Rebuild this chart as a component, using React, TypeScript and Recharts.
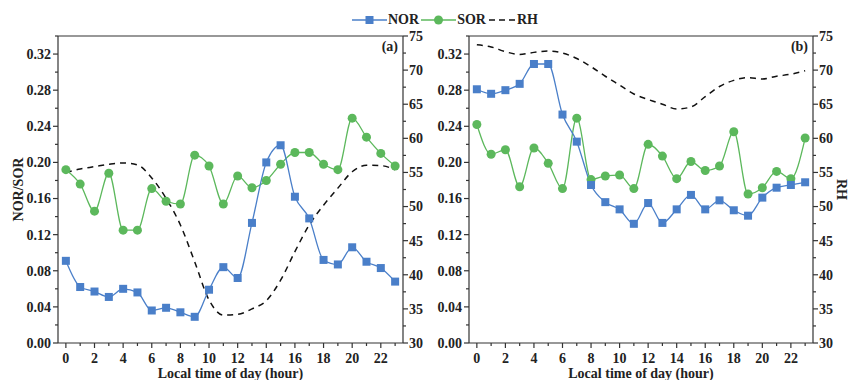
import { LineChart, Line, XAxis, YAxis, ReferenceLine } from "recharts";

const hours = [0, 1, 2, 3, 4, 5, 6, 7, 8, 9, 10, 11, 12, 13, 14, 15, 16, 17, 18, 19, 20, 21, 22, 23];

// panel (a)
const norA = [0.091, 0.062, 0.057, 0.051, 0.060, 0.056, 0.036, 0.039, 0.034, 0.029, 0.059, 0.084, 0.072, 0.133, 0.200, 0.219, 0.162, 0.138, 0.092, 0.087, 0.106, 0.090, 0.083, 0.068];
const sorA = [0.192, 0.176, 0.146, 0.188, 0.125, 0.125, 0.171, 0.157, 0.154, 0.208, 0.196, 0.154, 0.185, 0.172, 0.180, 0.198, 0.211, 0.211, 0.198, 0.192, 0.249, 0.228, 0.210, 0.196];
const rhA = [55.0, 55.5, 55.85, 56.2, 56.4, 56.1, 54.2, 51.2, 47.3, 41.9, 36.3, 34.1, 34.2, 35.0, 36.2, 39.2, 43.4, 47.3, 50.2, 52.7, 55.1, 56.05, 56.0, 55.4];

// panel (b)
const norB = [0.281, 0.276, 0.280, 0.287, 0.309, 0.309, 0.253, 0.223, 0.175, 0.156, 0.148, 0.132, 0.155, 0.133, 0.148, 0.164, 0.148, 0.158, 0.147, 0.141, 0.161, 0.172, 0.175, 0.178];
const sorB = [0.242, 0.209, 0.214, 0.173, 0.216, 0.199, 0.171, 0.249, 0.181, 0.185, 0.186, 0.171, 0.220, 0.207, 0.182, 0.201, 0.191, 0.196, 0.234, 0.165, 0.172, 0.190, 0.182, 0.227];
const rhB = [73.7, 73.4, 72.7, 72.3, 72.6, 72.8, 72.5, 71.7, 70.5, 69.1, 67.8, 66.5, 65.7, 65.0, 64.3, 64.6, 66.1, 67.6, 68.5, 68.9, 68.7, 69.1, 69.4, 69.9];

const ratioTicks = [0, 0.02, 0.04, 0.06, 0.08, 0.1, 0.12, 0.14, 0.16, 0.18, 0.2, 0.22, 0.24, 0.26, 0.28, 0.3, 0.32, 0.34];
const rhTicks = [30, 32.5, 35, 37.5, 40, 42.5, 45, 47.5, 50, 52.5, 55, 57.5, 60, 62.5, 65, 67.5, 70, 72.5, 75];

const FONT = '"Liberation Serif", "Times New Roman", serif';
const AXIS = "#333333";
const BLUE = "#4a7fc9";
const GREEN = "#5cb85c";

const textStyle = { fontFamily: FONT, fontWeight: 700, fontSize: 14, fill: "#222" };

function HourTick({ x, y, payload }: any) {
  const major = payload.value % 2 === 0;
  return (
    <g>
      <line x1={x} x2={x} y1={y} y2={y + (major ? 5 : 3)} stroke={AXIS} strokeWidth={1.2} />
      {major && (
        <text x={x} y={y + 20} textAnchor="middle" style={textStyle}>
          {payload.value}
        </text>
      )}
    </g>
  );
}

function RatioTick({ x, y, payload }: any) {
  const v = payload.value;
  const major = Math.round(v * 100) % 4 === 0;
  return (
    <g>
      <line x1={x - (major ? 5 : 3)} x2={x} y1={y} y2={y} stroke={AXIS} strokeWidth={1.2} />
      {major && (
        <text x={x - 7} y={y} dy="0.35em" textAnchor="end" style={textStyle}>
          {v.toFixed(2)}
        </text>
      )}
    </g>
  );
}

function RhTick({ x, y, payload }: any) {
  const v = payload.value;
  const major = v % 5 === 0;
  return (
    <g>
      <line x1={x} x2={x + (major ? 5 : 3)} y1={y} y2={y} stroke={AXIS} strokeWidth={1.2} />
      {major && (
        <text x={x + 6} y={y} dy="0.35em" textAnchor="start" style={textStyle}>
          {v}
        </text>
      )}
    </g>
  );
}

function SquareDot({ cx, cy }: any) {
  if (cx == null || cy == null) return null;
  return <rect x={cx - 4} y={cy - 4} width={8} height={8} fill={BLUE} />;
}

interface PanelProps {
  nor: number[];
  sor: number[];
  rh: number[];
  tag: string;
  width: number;
  leftW: number;
  rightW: number;
  ratioTitle?: boolean;
  rhTitle?: boolean;
}

function Panel({ nor, sor, rh, tag, width, leftW, rightW, ratioTitle, rhTitle }: PanelProps) {
  const data = hours.map((h, i) => ({ hour: h, nor: nor[i], sor: sor[i], rh: rh[i] }));
  return (
    <LineChart width={width} height={380} data={data} margin={{ top: 36, right: 0, bottom: 0, left: 0 }}>
      <XAxis
        dataKey="hour"
        type="number"
        domain={[-0.55, 23.55]}
        ticks={hours}
        interval={0}
        height={37}
        tickSize={0}
        tickMargin={0}
        tickLine={false}
        tick={<HourTick />}
        axisLine={{ stroke: AXIS, strokeWidth: 1.2 }}
        label={{
          content: ({ viewBox }: any) => (
            <text x={viewBox.x + viewBox.width / 2} y={viewBox.y + 35} textAnchor="middle" style={textStyle}>
              Local time of day (hour)
            </text>
          ),
        }}
      />
      <YAxis
        yAxisId="ratio"
        orientation="left"
        domain={[0, 0.34]}
        ticks={ratioTicks}
        interval={0}
        width={leftW}
        tickSize={0}
        tickMargin={0}
        tickLine={false}
        tick={<RatioTick />}
        axisLine={{ stroke: AXIS, strokeWidth: 1.2 }}
        label={
          ratioTitle
            ? {
                content: ({ viewBox }: any) => {
                  const cx = viewBox.x + 18;
                  const cy = viewBox.y + viewBox.height / 2;
                  return (
                    <text x={cx} y={cy} dy="0.35em" textAnchor="middle" transform={`rotate(-90 ${cx} ${cy})`} style={textStyle}>
                      NOR/SOR
                    </text>
                  );
                },
              }
            : undefined
        }
      />
      <YAxis
        yAxisId="rh"
        orientation="right"
        domain={[30, 75]}
        ticks={rhTicks}
        interval={0}
        width={rightW}
        tickSize={0}
        tickMargin={0}
        tickLine={false}
        tick={<RhTick />}
        axisLine={{ stroke: AXIS, strokeWidth: 1.2 }}
        label={
          rhTitle
            ? {
                content: ({ viewBox }: any) => {
                  const cx = viewBox.x + viewBox.width - 8;
                  const cy = viewBox.y + viewBox.height / 2;
                  return (
                    <text x={cx} y={cy} dy="0.35em" textAnchor="middle" transform={`rotate(90 ${cx} ${cy})`} style={textStyle}>
                      RH
                    </text>
                  );
                },
              }
            : undefined
        }
      />
      <ReferenceLine
        yAxisId="ratio"
        y={0.34}
        stroke={AXIS}
        strokeWidth={1.2}
        label={{ value: tag, position: "insideTopRight", offset: 5, style: textStyle }}
      />
      <Line
        yAxisId="rh"
        dataKey="rh"
        type="monotone"
        stroke="#111"
        strokeWidth={1.5}
        strokeDasharray="6 5"
        dot={false}
        isAnimationActive={false}
      />
      <Line
        yAxisId="ratio"
        dataKey="sor"
        type="monotone"
        stroke={GREEN}
        strokeWidth={1.3}
        dot={{ r: 4.5, fill: GREEN, stroke: GREEN, strokeWidth: 0 }}
        isAnimationActive={false}
      />
      <Line
        yAxisId="ratio"
        dataKey="nor"
        type="monotone"
        stroke={BLUE}
        strokeWidth={1.3}
        dot={<SquareDot />}
        isAnimationActive={false}
      />
    </LineChart>
  );
}

const legendItems = [
  { name: "NOR", color: BLUE, marker: "square" },
  { name: "SOR", color: GREEN, marker: "circle" },
  { name: "RH", color: "#111", marker: "dash" },
];

function Legend() {
  return (
    <div style={{ position: "absolute", left: 352, top: 11, display: "flex", alignItems: "center", height: 18 }}>
      {legendItems.map((it) => (
        <div key={it.name} style={{ display: "flex", alignItems: "center", marginRight: 2 }}>
          <svg width={it.marker === "dash" ? 28 : 35} height={18}>
            {it.marker === "dash" ? (
              <line x1={1} x2={27} y1={9} y2={9} stroke={it.color} strokeWidth={1.5} strokeDasharray="6 4" />
            ) : (
              <line x1={0} x2={35} y1={9} y2={9} stroke={it.color} strokeWidth={1.3} />
            )}
            {it.marker === "square" && <rect x={13.5} y={5} width={8} height={8} fill={it.color} />}
            {it.marker === "circle" && <circle cx={17.5} cy={9} r={4.5} fill={it.color} />}
          </svg>
          <span style={{ fontFamily: FONT, fontWeight: 700, fontSize: 14, color: "#222", marginLeft: 1 }}>{it.name}</span>
        </div>
      ))}
    </div>
  );
}

export default function App() {
  return (
    <div style={{ position: "absolute", left: 0, top: 0, width: 850, height: 380, background: "#fff", overflow: "hidden" }}>
      <div style={{ display: "flex" }}>
        <Panel nor={norA} sor={sorA} rh={rhA} tag="(a)" width={430} leftW={58} rightW={27} ratioTitle />
        <Panel nor={norB} sor={sorB} rh={rhB} tag="(b)" width={420} leftW={39} rightW={37} rhTitle />
      </div>
      <Legend />
    </div>
  );
}
